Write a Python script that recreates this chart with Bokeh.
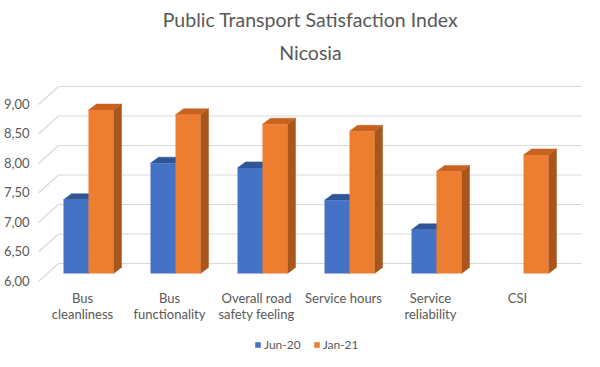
from bokeh.plotting import figure
from bokeh.layouts import column
from bokeh.models import (Range1d, LinearAxis, FixedTicker, Title, Legend, LegendItem,
                          CustomJSTickFormatter)
from bokeh.embed import file_html
from bokeh.resources import INLINE

# ---------------- data ----------------
categories = ["Bus cleanliness", "Bus functionality", "Overall road safety feeling",
              "Service hours", "Service reliability", "CSI"]
tick_labels = ["Bus\ncleanliness", "Bus\nfunctionality", "Overall road\nsafety feeling",
               "Service hours", "Service\nreliability", "CSI"]
series_names = ["Jun-20", "Jan-21"]
jun20 = [7.25, 7.87, 7.79, 7.24, 6.74, None]
jan21 = [8.77, 8.69, 8.53, 8.41, 7.73, 8.01]
y_ticks = [6.0, 6.5, 7.0, 7.5, 8.0, 8.5, 9.0]
y_base = 6.0

# ---------------- styling ----------------
FONT = "Lato"
TEXT = "#595959"
GRID = "#D9D9D9"
BLUE, BLUE_TOP, BLUE_SIDE = "#4472C4", "#2F5597", "#305496"
ORANGE, ORANGE_TOP, ORANGE_SIDE = "#ED7D31", "#C8631F", "#A8561C"

PX_X = 87.0      # px per category
PX_Y = 59.0      # px per value unit
FRAME_W, FRAME_H = 550, 205
X0 = -53 / PX_X
Y0 = y_base - 13 / PX_Y
BAR_W = 25 / PX_X
DX, DY = 8 / PX_X, 6 / PX_Y          # bar depth
BACK_X, BACK_DY = -30 / PX_X, 10 / PX_Y   # back wall
FRONT_X, FRONT_DY = -50 / PX_X, 8 / PX_Y  # floor front edge
RIGHT_X = 493 / PX_X
LABEL_SHIFT_X = 6 / PX_X
LABEL_SHIFT_Y = 7 / PX_Y

p = figure(frame_width=FRAME_W, frame_height=FRAME_H,
           x_range=Range1d(X0, X0 + FRAME_W / PX_X),
           y_range=Range1d(Y0, Y0 + FRAME_H / PX_Y),
           output_backend="svg", toolbar_location=None,
           x_axis_location=None, y_axis_location=None, title=None,
           min_border_left=32, min_border_right=2, min_border_top=0, min_border_bottom=0)
p.xgrid.visible = False
p.ygrid.visible = False
p.outline_line_color = None
p.background_fill_color = "white"
p.border_fill_color = "white"

# gridlines on the back wall + slanted part on the side wall
p.segment(x0=[BACK_X] * len(y_ticks), y0=[v + BACK_DY for v in y_ticks],
          x1=[RIGHT_X] * len(y_ticks), y1=[v + BACK_DY for v in y_ticks],
          line_color=GRID, line_width=1.2)
p.segment(x0=[FRONT_X] * len(y_ticks), y0=[v - FRONT_DY for v in y_ticks],
          x1=[BACK_X] * len(y_ticks), y1=[v + BACK_DY for v in y_ticks],
          line_color=GRID, line_width=1.2)

series = [(series_names[0], jun20, BLUE, BLUE_TOP, BLUE_SIDE),
          (series_names[1], jan21, ORANGE, ORANGE_TOP, ORANGE_SIDE)]
for s, (name, vals, c_front, c_top, c_side) in enumerate(series):
    idx = [i for i, v in enumerate(vals) if v is not None]
    v = [vals[i] for i in idx]
    x0 = [i - BAR_W + s * BAR_W for i in idx]
    x1 = [a + BAR_W for a in x0]
    # side faces
    p.patches(xs=[[b, b + DX, b + DX, b] for b in x1],
              ys=[[y_base, y_base + DY, t + DY, t] for t in v],
              fill_color=c_side, line_color=c_side, line_width=0.5)
    # top faces
    p.patches(xs=[[a, b, b + DX, a + DX] for a, b in zip(x0, x1)],
              ys=[[t, t, t + DY, t + DY] for t in v],
              fill_color=c_top, line_color=c_top, line_width=0.5)
    # front faces
    p.quad(left=x0, right=x1, bottom=[y_base] * len(v), top=v,
           fill_color=c_front, line_color=None)

# y axis on the front plane
p.extra_y_ranges = {"front": Range1d(Y0 + LABEL_SHIFT_Y, Y0 + FRAME_H / PX_Y + LABEL_SHIFT_Y)}
yax = LinearAxis(y_range_name="front", ticker=FixedTicker(ticks=y_ticks),
                 formatter=CustomJSTickFormatter(code="return tick.toFixed(2).replace('.', ',')"))
yax.axis_line_color = None
yax.major_tick_line_color = None
yax.minor_tick_line_color = None
yax.major_tick_in = 0
yax.major_tick_out = 0
yax.major_label_standoff = 6
yax.major_label_text_font = FONT
yax.major_label_text_font_size = "13px"
yax.major_label_text_color = TEXT
p.add_layout(yax, "left")

# x axis on the front plane
p.extra_x_ranges = {"front": Range1d(X0 + LABEL_SHIFT_X, X0 + FRAME_W / PX_X + LABEL_SHIFT_X)}
xax = LinearAxis(x_range_name="front", ticker=FixedTicker(ticks=list(range(len(categories)))),
                 major_label_overrides={i: t for i, t in enumerate(tick_labels)})
xax.axis_line_color = None
xax.major_tick_line_color = None
xax.minor_tick_line_color = None
xax.major_tick_in = 0
xax.major_tick_out = 0
xax.major_label_standoff = 3
xax.major_label_text_font = FONT
xax.major_label_text_font_size = "13px"
xax.major_label_text_color = TEXT
xax.major_label_text_line_height = 1.0
p.add_layout(xax, "below")

t2 = Title(text="Nicosia", align="center", text_font=FONT, text_font_size="19.5px",
           text_color=TEXT, text_font_style="normal", standoff=35)
t1 = Title(text="Public Transport Satisfaction Index", align="center", text_font=FONT,
           text_font_size="19.5px", text_color=TEXT, text_font_style="normal", standoff=-19)
spacer = Title(text=" ", text_font_size="10px", standoff=2)
p.add_layout(t2, "above")
p.add_layout(t1, "above")
p.add_layout(spacer, "above")

# ---------------- legend strip ----------------
pl = figure(width=584, height=36, x_range=Range1d(0, 1), y_range=Range1d(0, 1),
            output_backend="svg", toolbar_location=None,
            x_axis_location=None, y_axis_location=None, title=None, min_border=0)
pl.xgrid.visible = False
pl.ygrid.visible = False
pl.outline_line_color = None
items = []
for name, vals, c_front, c_top, c_side in series:
    # zero-size swatch carrier: only its style is used by the legend
    r = pl.quad(left=[0], right=[0], bottom=[0], top=[0], fill_color=c_front, line_color=None)
    items.append(LegendItem(label=name, renderers=[r]))
legend = Legend(items=items, orientation="horizontal", location=(219, 8),
                glyph_width=7, glyph_height=7, label_standoff=3, spacing=12,
                label_text_font=FONT, label_text_font_size="12px", label_text_color=TEXT,
                border_line_color=None, background_fill_alpha=0, padding=4, margin=0)
pl.add_layout(legend, "center")

layout = column(p, pl, spacing=0)
open("out.html", "w").write(file_html(layout, INLINE))
